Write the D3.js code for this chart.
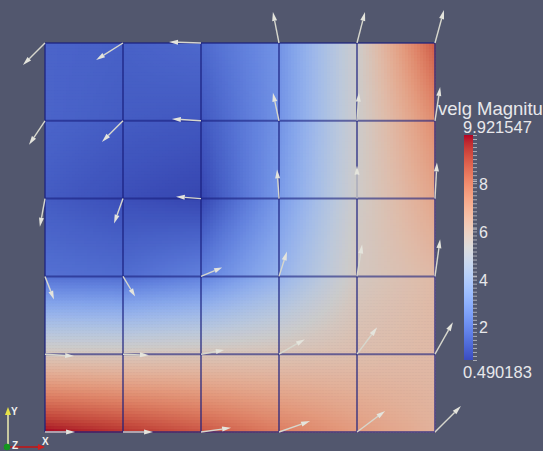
<!DOCTYPE html>
<html>
<head>
<meta charset="utf-8">
<script src="https://cdn.jsdelivr.net/npm/d3@7"></script>
<style>
  html, body { margin: 0; padding: 0; background: #52576e; overflow: hidden; }
  text { font-family: "Liberation Sans", Arial, sans-serif; }
</style>
</head>
<body>
<script>
// |velg| at the 6x6 grid nodes, row 0 is the top of the view
var magRow0 = [1.2, 1.1, 1.3, 2.4, 5.2, 8.7];
var magRow1 = [1.2, 1.0, 0.9, 2.4, 5.2, 7.6];
var magRow2 = [1.0, 0.7, 0.490183, 2.6, 5.3, 6.9];
var magRow3 = [1.5, 1.4, 1.9, 3.4, 5.5, 6.2];
var magRow4 = [5.6, 5.6, 5.7, 5.8, 6.0, 6.2];
var magRow5 = [9.921547, 9.4, 8.8, 8.0, 7.2, 6.5];

// projected glyph direction (u to the right, v upward)
var uRow0 = [-0.69, -0.84, -1.0, -0.19, 0.25, 0.28];
var vRow0 = [-0.69, -0.53, 0.03, 0.97, 0.97, 1.03];
var uRow1 = [-0.5, -0.66, -0.91, -0.19, 0.06, 0.16];
var vRow1 = [-0.75, -0.66, 0.06, 0.88, 0.88, 1.06];
var uRow2 = [-0.16, -0.28, -0.78, -0.06, 0, 0.06];
var vRow2 = [-0.88, -0.78, 0.06, 0.91, 1.03, 1.13];
var uRow3 = [0.28, 0.38, 0.66, 0.25, 0.16, 0.16];
var vRow3 = [-0.72, -0.63, 0.28, 0.78, 1.0, 1.16];
var uRow4 = [0.91, 0.81, 0.72, 0.81, 0.63, 0.56];
var vRow4 = [-0.06, -0.03, 0.13, 0.47, 0.84, 1.0];
var uRow5 = [0.94, 0.94, 0.94, 0.97, 0.88, 0.81];
var vRow5 = [0, 0, 0.13, 0.34, 0.66, 0.81];

var magMin = 0.490183, magMax = 9.921547;
var barLabels = [2, 4, 6, 8];
var barTitle = "velg Magnitude";

// ParaView "Cool to Warm"
var coolWarm = [
  "rgb(59,76,192)", "rgb(68,90,204)", "rgb(77,104,215)", "rgb(87,117,225)",
  "rgb(98,130,234)", "rgb(108,142,241)", "rgb(119,154,247)", "rgb(130,165,251)",
  "rgb(141,176,254)", "rgb(152,185,255)", "rgb(163,194,255)", "rgb(174,201,253)",
  "rgb(184,208,249)", "rgb(194,213,244)", "rgb(204,217,238)", "rgb(213,219,230)",
  "rgb(221,221,221)", "rgb(229,216,209)", "rgb(236,211,197)", "rgb(241,204,185)",
  "rgb(245,196,173)", "rgb(247,187,160)", "rgb(247,177,148)", "rgb(247,166,135)",
  "rgb(244,154,123)", "rgb(241,141,111)", "rgb(236,127,99)", "rgb(229,112,88)",
  "rgb(222,96,77)", "rgb(213,80,66)", "rgb(203,62,56)", "rgb(192,40,47)",
  "rgb(180,4,38)"
];

var mag = [magRow0, magRow1, magRow2, magRow3, magRow4, magRow5];
var uu = [uRow0, uRow1, uRow2, uRow3, uRow4, uRow5];
var vv = [vRow0, vRow1, vRow2, vRow3, vRow4, vRow5];

var WIDTH = 543, HEIGHT = 451;
var SUB = 26;       // sub-samples per cell
var LIGHT = 0.92;   // surface shading vs. the legend

var svg = d3.select("body").append("svg")
    .attr("width", WIDTH)
    .attr("height", HEIGHT);

var x = d3.scaleLinear().domain([0, 5]).range([45, 435]);
var y = d3.scaleLinear().domain([0, 5]).range([43, 432]);
var norm = d3.scaleLinear().domain([magMin, magMax]).range([0, 1]).clamp(true);
var cmap = d3.scaleLinear()
    .domain(coolWarm.map(function(c, i) { return i / 32; }))
    .range(coolWarm)
    .interpolate(d3.interpolateRgb);
var shade = function(v) {
  var c = d3.rgb(cmap(norm(v)));
  return d3.rgb(c.r * LIGHT, c.g * LIGHT, c.b * LIGHT).toString();
};
var glyph = d3.scaleLinear().domain([0, 1]).range([0, 32]);

// bilinear value inside the grid
var sample = function(gx, gy) {
  var i = Math.min(4, Math.floor(gx)), j = Math.min(4, Math.floor(gy));
  var fx = gx - i, fy = gy - j;
  var a = mag[j][i], b = mag[j][i + 1], c = mag[j + 1][i], d = mag[j + 1][i + 1];
  return (a * (1 - fx) + b * fx) * (1 - fy) + (c * (1 - fx) + d * fx) * fy;
};

var cells = [];
var n = 5 * SUB;
for (var r = 0; r < n; r++) {
  for (var c = 0; c < n; c++) {
    cells.push({ gx: c / SUB, gy: r / SUB, v: sample((c + 0.5) / SUB, (r + 0.5) / SUB) });
  }
}

svg.append("g").selectAll("rect")
    .data(cells)
  .enter().append("rect")
    .attr("x", function(d) { return x(d.gx); })
    .attr("y", function(d) { return y(d.gy); })
    .attr("width", x(1 / SUB) - x(0) + 0.6)
    .attr("height", y(1 / SUB) - y(0) + 0.6)
    .attr("fill", function(d) { return shade(d.v); });

// cell edges
var lines = svg.append("g")
    .attr("stroke", "rgb(25,30,125)")
    .attr("stroke-opacity", 0.6)
    .attr("stroke-width", 2);
d3.range(6).forEach(function(k) {
  lines.append("line").attr("x1", x(k)).attr("x2", x(k)).attr("y1", y(0)).attr("y2", y(5));
  lines.append("line").attr("x1", x(0)).attr("x2", x(5)).attr("y1", y(k)).attr("y2", y(k));
});

// arrow glyphs
var arrows = [];
for (var j = 0; j < 6; j++) {
  for (var i = 0; i < 6; i++) {
    arrows.push({ i: i, j: j, u: uu[j][i], v: vv[j][i] });
  }
}
var ag = svg.append("g");
arrows.forEach(function(a) {
  var x0 = x(a.i), y0 = y(a.j);
  var dx = glyph(a.u), dy = -glyph(a.v);
  var len = Math.sqrt(dx * dx + dy * dy);
  if (len < 1) return;
  var ux = dx / len, uy = dy / len;
  var head = Math.min(9, len * 0.35);
  var bx = x0 + dx - ux * head, by = y0 + dy - uy * head;
  ag.append("line")
      .attr("x1", x0).attr("y1", y0)
      .attr("x2", bx).attr("y2", by)
      .attr("stroke", "rgb(215,215,205)")
      .attr("stroke-width", 1.4);
  var w = 2.5;
  ag.append("polygon")
      .attr("points", [
        [x0 + dx, y0 + dy],
        [bx - uy * w, by + ux * w],
        [bx + uy * w, by - ux * w]
      ].map(function(p) { return p.join(","); }).join(" "))
      .attr("fill", "rgb(228,228,220)");
});

// colour legend
var barX = 464, barW = 9;
var barY = d3.scaleLinear().domain([magMin, magMax]).range([360, 135]);
var defs = svg.append("defs");
var grad = defs.append("linearGradient")
    .attr("id", "cbar")
    .attr("x1", 0).attr("x2", 0).attr("y1", 1).attr("y2", 0);
grad.selectAll("stop")
    .data(coolWarm)
  .enter().append("stop")
    .attr("offset", function(d, i) { return i / 32; })
    .attr("stop-color", function(d) { return d; });
svg.append("rect")
    .attr("x", barX).attr("y", barY(magMax))
    .attr("width", barW).attr("height", barY(magMin) - barY(magMax))
    .attr("fill", "url(#cbar)");

var minor = d3.range(57).map(function(k) { return magMin + k * (magMax - magMin) / 56; });
var minorAxis = svg.append("g")
    .attr("transform", "translate(" + (barX + barW) + ",0)")
    .call(d3.axisRight(barY).tickValues(minor).tickSize(4).tickFormat(""));
minorAxis.select(".domain").remove();
minorAxis.selectAll("line").attr("stroke", "rgb(200,200,205)").attr("stroke-opacity", 0.75);

var labAxis = svg.append("g")
    .attr("transform", "translate(" + (barX + barW) + ",0)")
    .call(d3.axisRight(barY).tickValues(barLabels).tickSize(4).tickPadding(2).tickFormat(d3.format("d")));
labAxis.select(".domain").remove();
labAxis.selectAll("line").attr("stroke", "rgb(200,200,205)");
labAxis.selectAll("text")
    .attr("fill", "rgb(232,232,235)")
    .attr("dy", "0.55em")
    .style("font-size", "16px")
    .style("font-family", "'Liberation Sans', Arial, sans-serif");

// title is wider than the free space and runs off the right edge, as in ParaView
svg.append("text")
    .attr("x", 438).attr("y", 115)
    .attr("fill", "rgb(232,232,235)")
    .style("font-size", "18.5px")
    .text(barTitle);
svg.append("text")
    .attr("x", 463).attr("y", 133)
    .attr("fill", "rgb(232,232,235)")
    .style("font-size", "16.5px")
    .text(d3.format(".6f")(magMax));
svg.append("text")
    .attr("x", 463).attr("y", 378)
    .attr("fill", "rgb(232,232,235)")
    .style("font-size", "16.5px")
    .text(d3.format(".6f")(magMin));

// orientation triad
var tri = svg.append("g");
tri.append("line").attr("x1", 8).attr("y1", 446).attr("x2", 8).attr("y2", 414)
    .attr("stroke", "rgb(200,200,160)").attr("stroke-width", 2);
tri.append("polygon").attr("points", "8,407 5,415 11,415").attr("fill", "rgb(230,225,70)");
tri.append("line").attr("x1", 10).attr("y1", 447).attr("x2", 38).attr("y2", 447)
    .attr("stroke", "rgb(170,35,40)").attr("stroke-width", 2);
tri.append("polygon").attr("points", "45,447 38,444 38,450").attr("fill", "rgb(210,30,30)");
tri.append("circle").attr("cx", 7).attr("cy", 447).attr("r", 3.2).attr("fill", "rgb(20,150,30)");
tri.append("text").attr("x", 11).attr("y", 415).attr("fill", "#f0f0f0")
    .style("font-size", "10px").style("font-weight", "bold").text("Y");
tri.append("text").attr("x", 12).attr("y", 449).attr("fill", "#f0f0f0")
    .style("font-size", "10px").style("font-weight", "bold").text("Z");
tri.append("text").attr("x", 42).attr("y", 445).attr("fill", "#f0f0f0")
    .style("font-size", "10px").style("font-weight", "bold").text("X");
</script>
</body>
</html>
